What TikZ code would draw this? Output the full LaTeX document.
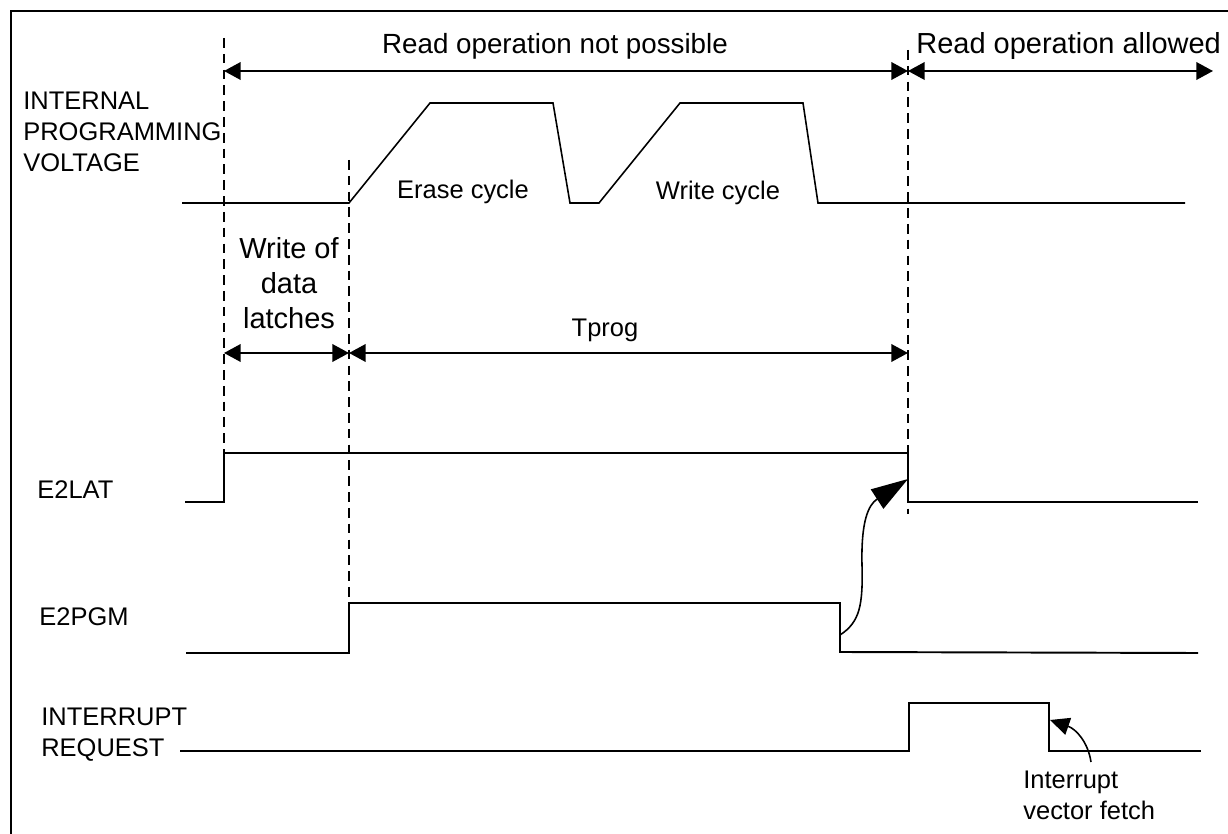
\documentclass[tikz,border=0pt]{standalone}
\usepackage{fontspec}
\setmainfont{Liberation Sans}
\usetikzlibrary{arrows.meta}

\begin{document}
\begin{tikzpicture}[x=0.02cm, y=-0.02cm,
  sig/.style={line width=1.1pt},
  volt/.style={line width=0.9pt},
  tline/.style={line width=1pt, dash pattern=on 5.5pt off 3.5pt},
  span/.style={line width=1.1pt, {Triangle[length=9.5pt,width=10pt]}-{Triangle[length=9.5pt,width=10pt]}},
  lbl/.style={inner sep=0pt, align=left, font=\fontsize{14.5}{17.6}\selectfont},
  big/.style={inner sep=0pt, align=center, font=\fontsize{16.5}{20}\selectfont}]
\useasboundingbox (0,0) rectangle (1228,834);

% frame
\draw[line width=1.2pt] (1228,11) -- (11,11) -- (11,834);

% time marks
\draw[tline] (224,38) -- (224,453);
\draw[tline] (349,160) -- (349,603);
\draw[tline] (908,50) -- (908,514);

% read windows
\coordinate (rdA) at (224,71);
\coordinate (rdB) at (908,71);
\coordinate (rdC) at (1213,71);
\draw[span] (rdA) -- (rdB);
\draw[span] (rdB) -- (rdC);
\node[big, font=\fontsize{15.8}{19}\selectfont, anchor=base] (notposs) at (555,54) {Read operation not possible};
\node[big, anchor=base west] (allowed) at (916,54) {Read operation allowed};

% programming voltage
\node[lbl, anchor=west] (vlabel) at (23,131.5) {INTERNAL\\PROGRAMMING\\VOLTAGE};
\draw[volt] (182,203) -- (349,203) -- (430,103) -- (553,103) -- (570,203) -- (599,203)
  -- (680,103) -- (803,103) -- (818,203) -- (1185,203);
\node[lbl, anchor=base] (erase) at (463,199) {Erase cycle};
\node[lbl, anchor=base] (write) at (718,200) {Write cycle};

% timing
\node[big] (latches) at (289,283.5) {Write of\\data\\latches};
\coordinate (tpA) at (224,353);
\coordinate (tpB) at (349,353);
\coordinate (tpC) at (908,353);
\draw[span] (tpA) -- (tpB);
\draw[span] (tpB) -- (tpC);
\node[lbl, anchor=base] (tprog) at (605,337) {Tprog};

% E2LAT
\node[lbl, anchor=base west] (lat) at (37,499) {E2LAT};
\draw[sig] (185,502) -- (224,502) -- (224,453) -- (908,453) -- (908,502) -- (1198,502);

% E2PGM
\node[lbl, anchor=base west] (pgm) at (39,625) {E2PGM};
\draw[sig] (186,653) -- (349,653) -- (349,603) -- (840,603) -- (840,652) -- (1198,653);

% interrupt request
\node[lbl, anchor=west] (irq) at (41,735) {INTERRUPT\\REQUEST};
\draw[sig] (180,751) -- (909,751) -- (909,703) -- (1049,703) -- (1049,751) -- (1201,751);

% causes
\coordinate (pgmend) at (840,635);
\coordinate (latend) at (908,479);
\draw[line width=0.9pt, -{Triangle[length=21pt,width=13pt]}] (pgmend)
  .. controls (860,622) and (863,605) .. (862,565)
  .. controls (861,522) and (868,505) .. (latend);
\node[lbl, anchor=west] (fetch) at (1023,795.5) {Interrupt\\vector fetch};
\coordinate (irqend) at (1050,720);
\draw[line width=0.9pt, -{Triangle[length=11pt,width=10pt]}] (1091,762)
  .. controls (1088,742) and (1076,729) .. (irqend);
\end{tikzpicture}
\end{document}
